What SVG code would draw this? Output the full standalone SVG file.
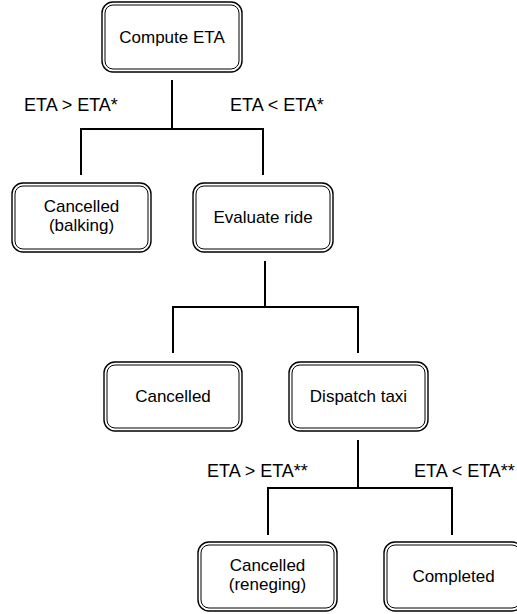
<svg xmlns="http://www.w3.org/2000/svg" width="517" height="614" viewBox="0 0 517 614">
<style>
.o{fill:#fff;stroke:#000;stroke-width:1.4}
.i{fill:none;stroke:#000;stroke-width:1}
.t{font-family:"Liberation Sans",Arial,sans-serif;font-size:17px;fill:#000}
.l{font-size:18px}
.c{text-anchor:middle}
.ln{stroke:#000;stroke-width:2;fill:none}
</style>
<rect width="517" height="614" fill="#fff"/>
<g id="connectors">
<path class="ln" d="M172,80V129M81,129H263M81,128V175M263,128V175"/>
<path class="ln" d="M265,261V307M173,307H358M173,306V353M358,306V353"/>
<path class="ln" d="M358,440V488M268,488H452M268,487V535M452,487V535"/>
<text class="t l" x="24" y="111">ETA &gt; ETA*</text>
<text class="t l" x="230" y="111">ETA &lt; ETA*</text>
<text class="t l" x="207" y="477">ETA &gt; ETA**</text>
<text class="t l" x="414" y="477">ETA &lt; ETA**</text>
</g>
<g id="compute">
<rect class="o" x="102" y="2" width="140" height="70" rx="11"/>
<rect class="i" x="105" y="5" width="134" height="64" rx="8"/>
<text class="t c" x="172" y="43">Compute ETA</text>
</g>
<g id="balking">
<rect class="o" x="12" y="183" width="139" height="69" rx="11"/>
<rect class="i" x="15" y="186" width="133" height="63" rx="8"/>
<text class="t c" x="81.5" y="212">Cancelled</text>
<text class="t c" x="81.5" y="231">(balking)</text>
</g>
<g id="evaluate">
<rect class="o" x="193" y="183" width="140" height="69" rx="11"/>
<rect class="i" x="196" y="186" width="134" height="63" rx="8"/>
<text class="t c" x="263" y="223">Evaluate ride</text>
</g>
<g id="cancelled">
<rect class="o" x="104" y="362" width="138" height="69" rx="11"/>
<rect class="i" x="107" y="365" width="132" height="63" rx="8"/>
<text class="t c" x="173" y="402">Cancelled</text>
</g>
<g id="dispatch">
<rect class="o" x="289" y="362" width="139" height="69" rx="11"/>
<rect class="i" x="292" y="365" width="133" height="63" rx="8"/>
<text class="t c" x="358.5" y="402">Dispatch taxi</text>
</g>
<g id="reneging">
<rect class="o" x="198" y="542" width="139" height="69" rx="11"/>
<rect class="i" x="201" y="545" width="133" height="63" rx="8"/>
<text class="t c" x="267.5" y="571">Cancelled</text>
<text class="t c" x="267.5" y="590">(reneging)</text>
</g>
<g id="completed">
<rect class="o" x="384" y="542" width="139" height="69" rx="11"/>
<rect class="i" x="387" y="545" width="133" height="63" rx="8"/>
<text class="t c" x="453.5" y="582">Completed</text>
</g>
</svg>
